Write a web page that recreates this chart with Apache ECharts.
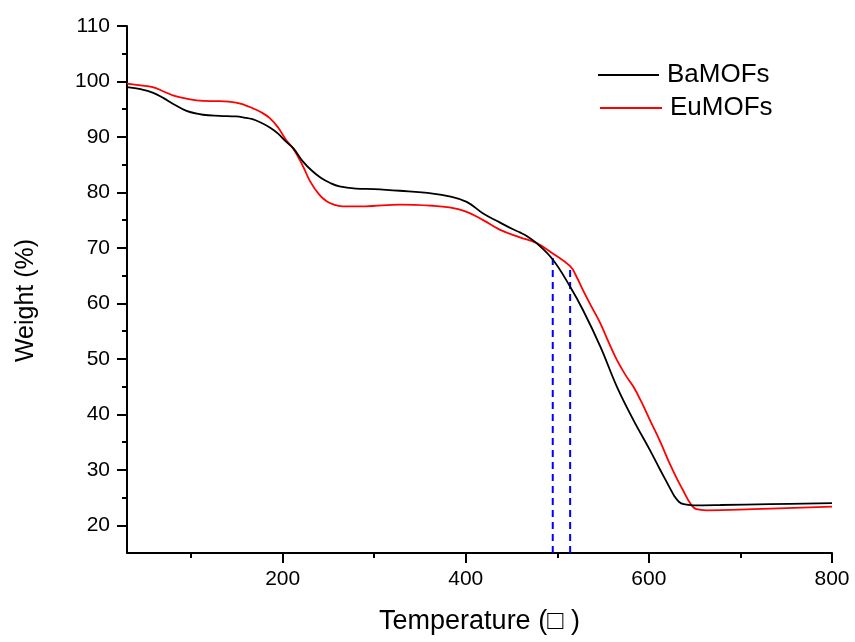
<!DOCTYPE html>
<html>
<head>
<meta charset="utf-8">
<script src="https://cdn.jsdelivr.net/npm/echarts@6/dist/echarts.min.js"></script>
<style>
html,body{margin:0;padding:0;background:#fff;}
#chart{width:855px;height:642px;}
</style>
</head>
<body>
<div id="chart"></div>
<script>
// ---- data ----
var baTemp = [30,45,58,70,80,95,113,131,149,158,167,176,186,195,204,212,222,232,242,252,262,280,300,328,364,382,401,419,437,451,459,467,477,495,514,528,547,565,583,601,612,623,628,633,638,648,678,732,800];
var baWeight = [99.0,98.6,98.0,97.0,96.0,94.7,94.0,93.8,93.7,93.5,93.2,92.6,91.7,90.6,89.1,87.9,85.6,83.9,82.6,81.7,81.1,80.7,80.6,80.3,79.8,79.3,78.3,76.2,74.6,73.4,72.8,72.1,70.9,67.9,63.0,58.8,52.2,45.0,39.0,33.6,30.1,26.7,25.2,24.2,23.8,23.6,23.65,23.8,24.0];

var euTemp = [30,45,58,70,80,95,113,131,149,158,167,176,186,195,204,212,222,230,240,248,256,265,290,328,364,382,401,419,437,459,477,495,514,521,528,537,547,556,565,574,583,592,601,612,623,630,637,645,652,663,714,800];
var euWeight = [99.6,99.3,99.0,98.2,97.5,96.9,96.5,96.45,96.2,95.8,95.2,94.5,93.4,91.7,89.4,87.8,84.8,82.0,79.6,78.4,77.8,77.5,77.5,77.8,77.6,77.3,76.5,75.0,73.3,71.9,70.9,69.0,66.7,64.8,62.4,59.5,56.4,53.0,49.8,47.2,45.0,42.2,39.0,35.2,31.0,28.6,26.4,24.0,22.9,22.7,22.9,23.35];

var markTemp = [495, 514];
var markTop = [68.2, 66.7];

var xMajorTicks = [200, 400, 600, 800];
var xMinorTicks = [100, 300, 500, 700];
var yMajorTicks = [20, 30, 40, 50, 60, 70, 80, 90, 100, 110];
var yMinorTicks = [25, 35, 45, 55, 65, 75, 85, 95, 105];

var seriesNames = ['BaMOFs', 'EuMOFs'];
var xName = 'Temperature (\u25A1 )';
var yName = 'Weight (%)';

function pairs(xs, ys) { return xs.map(function (x, i) { return [x, ys[i]]; }); }

var FONT = 'Liberation Sans, Arial, sans-serif';
var chart = echarts.init(document.getElementById('chart'), null, {renderer: 'canvas'});

var dashSeries = markTemp.map(function (t, i) {
  return {
    type: 'line', xAxisIndex: 0, yAxisIndex: 0,
    data: [[t, 15], [t, markTop[i]]],
    symbol: 'none', silent: true,
    lineStyle: {color: '#0000ff', width: 2, type: [7, 5]},
    z: 1
  };
});

var option = {
  backgroundColor: '#fff',
  animation: false,
  grid: {left: 127, top: 26, width: 705, height: 527, containLabel: false},
  legend: [
    {data: [seriesNames[0]], left: 593, top: 57, icon: 'rect', itemWidth: 61, itemHeight: 2,
     textStyle: {fontSize: 26, color: '#000', fontFamily: FONT, padding: [0, 0, 0, 3]}},
    {data: [seriesNames[1]], left: 595, top: 90, icon: 'rect', itemWidth: 62, itemHeight: 2,
     textStyle: {fontSize: 26, color: '#000', fontFamily: FONT, padding: [0, 0, 0, 3]}}
  ],
  xAxis: [
    {type: 'value', min: 30, max: 800, position: 'bottom',
     name: xName, nameLocation: 'middle', nameGap: 55,
     nameTextStyle: {fontSize: 27, color: '#000', fontFamily: FONT},
     axisLine: {show: true, lineStyle: {color: '#000', width: 2}},
     axisTick: {show: true, inside: false, length: 10, customValues: xMajorTicks, lineStyle: {color: '#000', width: 2}},
     axisLabel: {show: true, customValues: xMajorTicks, margin: 16, fontSize: 21, color: '#000', fontFamily: FONT},
     splitLine: {show: false}},
    {type: 'value', min: 30, max: 800, position: 'bottom',
     axisLine: {show: false},
     axisTick: {show: true, inside: false, length: 5, customValues: xMinorTicks, lineStyle: {color: '#000', width: 2}},
     axisLabel: {show: false},
     splitLine: {show: false}}
  ],
  yAxis: [
    {type: 'value', min: 15, max: 110, position: 'left',
     name: yName, nameLocation: 'middle', nameGap: 88, nameRotate: 90,
     nameTextStyle: {fontSize: 25, color: '#000', fontFamily: FONT, padding: [0, 22, 0, 0]},
     axisLine: {show: true, lineStyle: {color: '#000', width: 2}},
     axisTick: {show: true, inside: false, length: 10, customValues: yMajorTicks, lineStyle: {color: '#000', width: 2}},
     axisLabel: {show: true, customValues: yMajorTicks, margin: 17, fontSize: 21, color: '#000', fontFamily: FONT},
     splitLine: {show: false}},
    {type: 'value', min: 15, max: 110, position: 'left',
     axisLine: {show: false},
     axisTick: {show: true, inside: false, length: 5, customValues: yMinorTicks, lineStyle: {color: '#000', width: 2}},
     axisLabel: {show: false},
     splitLine: {show: false}}
  ],
  series: [
    {name: seriesNames[0], type: 'line', xAxisIndex: 0, yAxisIndex: 0,
     data: pairs(baTemp, baWeight), symbol: 'none', smooth: 0.4,
     lineStyle: {color: '#000000', width: 1.8}, itemStyle: {color: '#000000'}, z: 3},
    {name: seriesNames[1], type: 'line', xAxisIndex: 0, yAxisIndex: 0,
     data: pairs(euTemp, euWeight), symbol: 'none', smooth: 0.4,
     lineStyle: {color: '#ff0000', width: 1.8}, itemStyle: {color: '#ff0000'}, z: 2}
  ].concat(dashSeries)
};
chart.setOption(option);
</script>
</body>
</html>
